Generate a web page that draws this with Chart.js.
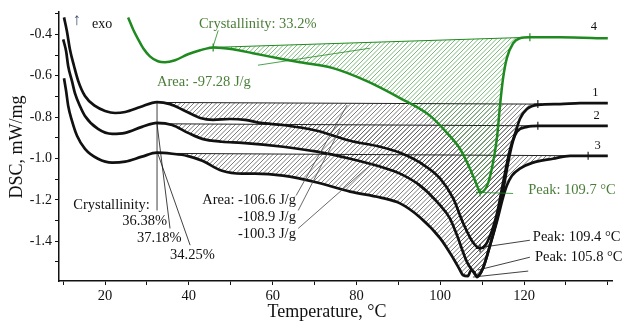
<!DOCTYPE html>
<html>
<head>
<meta charset="utf-8">
<script src="https://cdn.jsdelivr.net/npm/chart.js@4.4.0/dist/chart.umd.min.js"></script>
<style>
    html, body { margin: 0; padding: 0; background: #fff; }
    canvas { display: block; }
</style>
</head>
<body>
<canvas id="grafico" width="624" height="324"></canvas>
<script>
// DSC — curvas de fusão com áreas hachuradas

// ===================== DADOS =====================
// curva 1
const T1   = [10.2, 10.9, 11.6, 12.6, 13.6, 15.2, 17.6, 20.0, 22.4, 24.8, 28.4, 32.4, 35.5, 39.1, 42.7, 45.8, 49.8, 53.4, 57.0, 62.5, 70.6, 78.5, 85.6, 90.4, 95.2, 100.0, 103.1, 105.4, 107.8, 109.5, 111.2, 113.6, 115.0, 116.7, 118.1, 119.0, 120.7, 123.3, 128.6, 133.4, 140.0];
const DSC1 = [-0.318, -0.386, -0.472, -0.554, -0.626, -0.698, -0.746, -0.770, -0.780, -0.775, -0.751, -0.727, -0.737, -0.770, -0.804, -0.813, -0.809, -0.813, -0.828, -0.838, -0.866, -0.914, -0.943, -0.972, -1.020, -1.097, -1.193, -1.309, -1.405, -1.434, -1.405, -1.261, -1.116, -0.953, -0.866, -0.809, -0.761, -0.741, -0.737, -0.732, -0.732];

// curva 2
const T2   = [10.0, 10.7, 11.2, 12.1, 12.8, 14.0, 15.2, 18.3, 21.7, 24.8, 28.8, 32.4, 36.0, 39.8, 43.2, 47.9, 52.7, 62.5, 70.6, 78.5, 85.6, 90.4, 95.2, 100.0, 102.3, 104.0, 106.4, 107.6, 108.8, 110.2, 111.9, 113.6, 115.0, 116.2, 117.4, 118.3, 120.7, 123.3, 128.6, 140.0];
const DSC2 = [-0.424, -0.482, -0.554, -0.626, -0.684, -0.746, -0.794, -0.857, -0.881, -0.876, -0.847, -0.828, -0.838, -0.876, -0.905, -0.919, -0.924, -0.943, -0.967, -1.001, -1.039, -1.073, -1.131, -1.227, -1.289, -1.371, -1.501, -1.539, -1.568, -1.530, -1.419, -1.289, -1.155, -1.020, -0.914, -0.871, -0.847, -0.842, -0.842, -0.842];

// curva 3
const T3   = [10.2, 10.7, 11.2, 12.1, 13.3, 15.2, 18.3, 21.7, 24.8, 28.8, 32.4, 36.0, 39.6, 43.2, 47.9, 52.7, 55.8, 62.5, 70.6, 78.5, 85.6, 90.4, 95.2, 100.0, 103.1, 104.7, 105.4, 106.6, 107.4, 108.1, 108.8, 110.2, 111.9, 113.6, 115.0, 115.9, 117.1, 119.0, 122.1, 126.9, 131.0, 135.3, 140.0];
const DSC3 = [-0.612, -0.674, -0.746, -0.818, -0.890, -0.953, -1.001, -1.020, -1.015, -0.991, -0.972, -0.977, -0.987, -1.011, -1.059, -1.073, -1.073, -1.083, -1.116, -1.160, -1.188, -1.217, -1.285, -1.386, -1.482, -1.539, -1.563, -1.568, -1.539, -1.549, -1.573, -1.530, -1.419, -1.299, -1.188, -1.131, -1.083, -1.049, -1.020, -1.001, -0.987, -0.987, -0.987];

// curva 4 (verde)
const T4   = [25.5, 26.7, 27.9, 29.1, 30.7, 32.6, 34.3, 36.7, 39.8, 42.7, 45.8, 50.5, 55.3, 62.5, 66.5, 74.4, 82.5, 90.4, 97.6, 101.6, 104.7, 107.1, 108.8, 109.5, 111.2, 112.6, 113.6, 114.3, 115.0, 115.9, 117.4, 119.0, 121.4, 128.6, 140.0];
const DSC4 = [-0.318, -0.376, -0.424, -0.467, -0.506, -0.530, -0.535, -0.525, -0.496, -0.477, -0.463, -0.472, -0.491, -0.520, -0.535, -0.563, -0.626, -0.708, -0.794, -0.876, -0.953, -1.049, -1.131, -1.164, -1.131, -1.020, -0.890, -0.737, -0.612, -0.515, -0.443, -0.419, -0.414, -0.414, -0.419];

// linhas de base da integração (início, fim)
const BASE_T1 = [32.4, 123.3];  const BASE1 = [-0.729, -0.737];
const BASE_T2 = [32.4, 123.3];  const BASE2 = [-0.832, -0.842];
const BASE_T3 = [32.4, 135.3];  const BASE3 = [-0.975, -0.987];
const BASE_T4 = [45.8, 121.4];  const BASE4 = [-0.463, -0.414];

// eixos
const TICKS_X   = [10, 20, 30, 40, 50, 60, 70, 80, 90, 100, 110, 120, 130, 140];
const ROTULOS_X = [20, 40, 60, 80, 100, 120];
const TICKS_Y   = [-1.5, -1.4, -1.3, -1.2, -1.1, -1.0, -0.9, -0.8, -0.7, -0.6, -0.5, -0.4, -0.3];
const ROTULOS_Y = [-1.4, -1.2, -1.0, -0.8, -0.6, -0.4];

// ===================== CORES =====================
const COR_PRETO  = "#111";
const COR_VERDE  = "#1f8a1f";
const COR_TEXTO_VERDE = "#4a7d38";
const FONTE = '"Liberation Serif", "Times New Roman", serif';

// ===================== ANOTAÇÕES (coordenadas em °C / mW/mg) =====================
const TEXTOS = [
    { t: "↑",                    x: 12.2,  y: -0.333, cor: "#3a4a6a",         tam: 17 },
    { t: "exo",                  x: 16.9,  y: -0.352, cor: COR_PRETO,         tam: 14 },
    { t: "Crystallinity: 33.2%", x: 42.4,  y: -0.352, cor: COR_TEXTO_VERDE,   tam: 14.5 },
    { t: "Area: -97.28 J/g",     x: 32.4,  y: -0.631, cor: COR_TEXTO_VERDE,   tam: 14.5 },
    { t: "Peak: 109.7 °C",       x: 121.0, y: -1.155, cor: COR_TEXTO_VERDE,   tam: 14.5 },
    { t: "Peak: 109.4 °C",       x: 122.1, y: -1.381, cor: COR_PRETO,         tam: 14.5 },
    { t: "Peak: 105.8 °C",       x: 122.6, y: -1.477, cor: COR_PRETO,         tam: 14.5 },
    { t: "Crystallinity:",       x: 12.4,  y: -1.227, cor: COR_PRETO,         tam: 14.5 },
    { t: "36.38%",               x: 24.1,  y: -1.304, cor: COR_PRETO,         tam: 14.5 },
    { t: "37.18%",               x: 27.6,  y: -1.386, cor: COR_PRETO,         tam: 14.5 },
    { t: "34.25%",               x: 35.5,  y: -1.467, cor: COR_PRETO,         tam: 14.5 },
    { t: "Area: -106.6 J/g",     x: 43.2,  y: -1.203, cor: COR_PRETO,         tam: 14.5 },
    { t: "-108.9 J/g",           x: 51.7,  y: -1.285, cor: COR_PRETO,         tam: 14.5 },
    { t: "-100.3 J/g",           x: 51.7,  y: -1.366, cor: COR_PRETO,         tam: 14.5 },
    { t: "4",                    x: 135.9, y: -0.362, cor: COR_PRETO,         tam: 12.5 },
    { t: "1",                    x: 136.3, y: -0.684, cor: COR_PRETO,         tam: 12.5 },
    { t: "2",                    x: 136.6, y: -0.794, cor: COR_PRETO,         tam: 12.5 },
    { t: "3",                    x: 136.8, y: -0.938, cor: COR_PRETO,         tam: 12.5 },
];

// linhas de chamada [x1, y1, x2, y2, cor]
const GUIAS = [
    [47.0, -0.381, 45.8, -0.458, COR_VERDE],
    [56.5, -0.549, 83.2, -0.467, COR_VERDE],
    [109.7, -1.164, 117.4, -1.169, COR_VERDE],
    [110.0, -1.429, 121.4, -1.395, COR_PRETO],
    [109.0, -1.539, 121.4, -1.477, COR_PRETO],
    [107.8, -1.573, 121.0, -1.544, COR_PRETO],
    [32.4, -0.727, 32.4, -1.251, COR_PRETO],
    [32.4, -0.833, 35.5, -1.338, COR_PRETO],
    [32.6, -0.977, 40.3, -1.419, COR_PRETO],
    [65.6, -1.179, 77.8, -0.741, "#444"],
    [66.1, -1.251, 76.1, -0.857, "#444"],
    [66.1, -1.338, 85.6, -0.991, "#444"],
];

// ===================== HELPERS =====================
function pontos(xs, ys) {
    return xs.map((x, i) => ({ x, y: ys[i] }));
}

function hachura(cor) {
    const c = document.createElement("canvas");
    c.width = c.height = 9;
    const g = c.getContext("2d");
    g.strokeStyle = cor;
    g.lineWidth = 0.8;
    g.beginPath();
    for (const o of [-9, -4.5, 0, 4.5, 9]) {
        g.moveTo(o, 9);
        g.lineTo(o + 9, 0);
    }
    g.stroke();
    return g.createPattern(c, "repeat");
}

function indicePico(ys) {
    return ys.indexOf(Math.min(...ys));
}

const HACH_CINZA = hachura("#5a5a5a");
const HACH_VERDE = hachura("#5aaa5a");

function curva(xs, ys, cor, largura, alvo, hach, marcarPico) {
    const pico = indicePico(ys);
    return {
        data: pontos(xs, ys),
        borderColor: cor,
        borderWidth: largura,
        backgroundColor: hach,
        fill: { target: alvo },
        cubicInterpolationMode: "monotone",
        pointStyle: "cross",
        pointRadius: ctx => (marcarPico && ctx.dataIndex === pico ? 4 : 0),
        pointBorderWidth: 1.2,
        pointBorderColor: cor,
    };
}

function base(xs, ys, cor, raios) {
    return {
        data: pontos(xs, ys),
        borderColor: cor,
        borderWidth: 1,
        fill: false,
        pointStyle: "cross",
        pointRadius: raios,
        pointBorderWidth: 1.2,
        pointBorderColor: cor,
    };
}

// ===================== PLUGIN DE ANOTAÇÕES =====================
const anotacoes = {
    id: "anotacoes",
    afterDatasetsDraw(chart) {
        const { ctx, scales: { x, y } } = chart;
        ctx.save();

        GUIAS.forEach(([x1, y1, x2, y2, cor]) => {
            ctx.beginPath();
            ctx.strokeStyle = cor;
            ctx.lineWidth = 0.8;
            ctx.moveTo(x.getPixelForValue(x1), y.getPixelForValue(y1));
            ctx.lineTo(x.getPixelForValue(x2), y.getPixelForValue(y2));
            ctx.stroke();
        });

        ctx.textAlign = "left";
        ctx.textBaseline = "middle";
        TEXTOS.forEach(a => {
            ctx.font = `${a.tam}px ${FONTE}`;
            ctx.fillStyle = a.cor;
            ctx.fillText(a.t, x.getPixelForValue(a.x), y.getPixelForValue(a.y));
        });

        // títulos dos eixos
        ctx.fillStyle = COR_PRETO;
        ctx.font = `18px ${FONTE}`;
        ctx.textAlign = "center";
        ctx.fillText("Temperature, °C", 327, 312);
        ctx.translate(17, 147);
        ctx.rotate(-Math.PI / 2);
        ctx.fillText("DSC, mW/mg", 0, 0);

        ctx.restore();
    }
};

// ===================== GRÁFICO =====================
const datasets = [
    curva(T4, DSC4, COR_VERDE, 2.5, 4, HACH_VERDE, true),
    curva(T1, DSC1, COR_PRETO, 2.7, 5, HACH_CINZA, true),
    curva(T2, DSC2, COR_PRETO, 2.7, 6, HACH_CINZA, false),
    curva(T3, DSC3, COR_PRETO, 2.7, 7, HACH_CINZA, false),
    base(BASE_T4, BASE4, COR_VERDE, [4, 4]),
    base(BASE_T1, BASE1, "#222", [0, 4]),
    base(BASE_T2, BASE2, "#222", [0, 4]),
    base(BASE_T3, BASE3, "#222", [0, 4]),
];

new Chart(document.getElementById("grafico"), {
    type: "line",
    data: { datasets },
    options: {
        responsive: false,
        animation: false,
        devicePixelRatio: 1,
        layout: { padding: { left: 0, top: 10, right: 12, bottom: 0 } },
        plugins: {
            legend: { display: false },
            tooltip: { enabled: false },
            filler: { drawTime: "beforeDatasetsDraw" },
        },
        scales: {
            x: {
                type: "linear",
                min: 9,
                max: 141,
                afterBuildTicks: s => { s.ticks = TICKS_X.map(v => ({ value: v })); },
                afterFit: s => { s.height = 43; },
                ticks: {
                    autoSkip: false,
                    maxRotation: 0,
                    padding: 2,
                    color: COR_PRETO,
                    font: { family: FONTE, size: 14.5 },
                    callback: v => (ROTULOS_X.includes(v) ? String(v) : ""),
                },
                grid: { drawOnChartArea: false, drawTicks: true, tickLength: 4, tickColor: COR_PRETO, tickWidth: 1 },
                border: { display: true, color: COR_PRETO, width: 1.5 },
            },
            y: {
                type: "linear",
                min: -1.592,
                max: -0.289,
                afterBuildTicks: s => { s.ticks = TICKS_Y.map(v => ({ value: v })); },
                afterFit: s => { s.width = 59; },
                ticks: {
                    autoSkip: false,
                    padding: 3,
                    color: COR_PRETO,
                    font: { family: FONTE, size: 14 },
                    callback: v => (ROTULOS_Y.includes(v) ? v.toFixed(1) : ""),
                },
                grid: { drawOnChartArea: false, drawTicks: true, tickLength: 4, tickColor: COR_PRETO, tickWidth: 1 },
                border: { display: true, color: COR_PRETO, width: 1.5 },
            },
        },
    },
    plugins: [anotacoes],
});
</script>
</body>
</html>
